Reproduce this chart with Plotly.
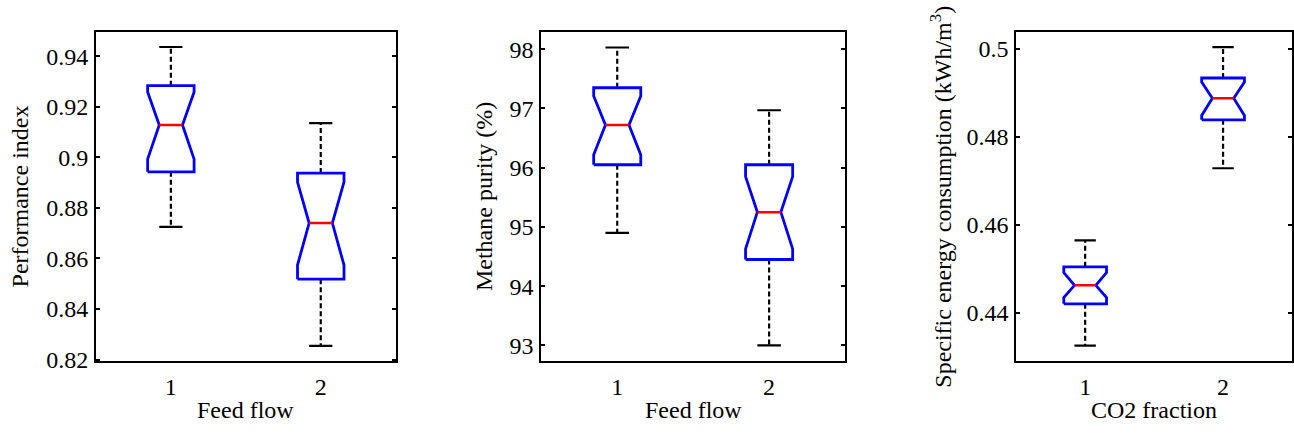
import plotly.graph_objects as go

# ---------------- data ----------------
groups = [1, 2]

p1_whisk_lo = [0.8725, 0.8254]
p1_q1       = [0.8943, 0.8518]
p1_notch_lo = [0.8993, 0.8574]
p1_median   = [0.9128, 0.8740]
p1_notch_hi = [0.9259, 0.8902]
p1_q3       = [0.9284, 0.8938]
p1_whisk_hi = [0.9437, 0.9136]

p2_whisk_lo = [94.90, 93.00]
p2_q1       = [96.05, 94.45]
p2_notch_lo = [96.22, 94.63]
p2_median   = [96.72, 95.25]
p2_notch_hi = [97.21, 95.85]
p2_q3       = [97.35, 96.05]
p2_whisk_hi = [98.03, 96.97]

p3_whisk_lo = [0.4326, 0.4729]
p3_q1       = [0.4421, 0.4839]
p3_notch_lo = [0.4435, 0.4849]
p3_median   = [0.4463, 0.4888]
p3_notch_hi = [0.4492, 0.4925]
p3_q3       = [0.4505, 0.4934]
p3_whisk_hi = [0.4565, 0.5004]

x_titles = ["Feed flow", "Feed flow", "CO2 fraction"]
y_titles = ["Performance index", "Methane purity (%)",
            "Specific energy consumption (kWh/m<sup>3</sup>)"]
y_tickvals = [[0.82, 0.84, 0.86, 0.88, 0.90, 0.92, 0.94],
              [93, 94, 95, 96, 97, 98],
              [0.44, 0.46, 0.48, 0.50]]
y_ticktext = [["0.82", "0.84", "0.86", "0.88", "0.9", "0.92", "0.94"],
              ["93", "94", "95", "96", "97", "98"],
              ["0.44", "0.46", "0.48", "0.5"]]
y_ranges = [[0.8195, 0.9496], [92.74, 98.29], [0.42915, 0.50383]]

panels = [
    (p1_whisk_lo, p1_q1, p1_notch_lo, p1_median, p1_notch_hi, p1_q3, p1_whisk_hi),
    (p2_whisk_lo, p2_q1, p2_notch_lo, p2_median, p2_notch_hi, p2_q3, p2_whisk_hi),
    (p3_whisk_lo, p3_q1, p3_notch_lo, p3_median, p3_notch_hi, p3_q3, p3_whisk_hi),
]

# ---------------- layout geometry ----------------
W, H = 1294, 436
x_px = [(96, 396), (541.7, 845.7), (1017, 1293)]
top_px, bot_px = 33, 371
ydom = [1 - bot_px / H, 1 - top_px / H]
ylabel_x_px = [20, 485, 942]

HALF = 0.155   # box half width (x units)
FONT = "Liberation Serif, Times New Roman, serif"

fig = go.Figure()
layout = dict(width=W, height=H, margin=dict(l=0, r=0, t=0, b=0, pad=0),
              plot_bgcolor="white", paper_bgcolor="white",
              showlegend=False, annotations=[],
              font=dict(family=FONT, color="black", size=24))

for i, (wlo, q1, nlo, med, nhi, q3, whi) in enumerate(panels):
    xa = "x" if i == 0 else f"x{i+1}"
    ya = "y" if i == 0 else f"y{i+1}"
    for j, g in enumerate(groups):
        w = HALF
        n = HALF / 2
        # whiskers (dashed)
        fig.add_trace(go.Scatter(x=[g, g, None, g, g],
                                 y=[q3[j], whi[j], None, q1[j], wlo[j]],
                                 mode="lines", xaxis=xa, yaxis=ya,
                                 line=dict(color="black", width=2.2, dash="5px,3px"),
                                 hoverinfo="skip"))
        # whisker caps
        fig.add_trace(go.Scatter(x=[g - n, g + n, None, g - n, g + n],
                                 y=[whi[j], whi[j], None, wlo[j], wlo[j]],
                                 mode="lines", xaxis=xa, yaxis=ya,
                                 line=dict(color="black", width=2.2),
                                 hoverinfo="skip"))
        # notched box outline
        bx = [g - w, g + w, g + w, g + n, g + w, g + w, g - w, g - w, g - n, g - w, g - w]
        by = [q1[j], q1[j], nlo[j], med[j], nhi[j], q3[j], q3[j], nhi[j], med[j], nlo[j], q1[j]]
        fig.add_trace(go.Scatter(x=bx, y=by, mode="lines", xaxis=xa, yaxis=ya,
                                 fill="toself", fillcolor="white",
                                 line=dict(color="#0000ff", width=2.8),
                                 hoverinfo="skip"))
        # median
        fig.add_trace(go.Scatter(x=[g - n, g + n], y=[med[j], med[j]],
                                 mode="lines", xaxis=xa, yaxis=ya,
                                 line=dict(color="#ff0000", width=2.5),
                                 hoverinfo="skip"))

    xkey = "xaxis" if i == 0 else f"xaxis{i+1}"
    ykey = "yaxis" if i == 0 else f"yaxis{i+1}"
    x0, x1 = x_px[i]
    layout[xkey] = dict(domain=[x0 / W, x1 / W], anchor=ya, range=[0.5, 2.5],
                        tickvals=groups, ticktext=[str(g) for g in groups],
                        ticks="", showline=True, mirror=True, linecolor="black",
                        linewidth=2, showgrid=False, zeroline=False,
                        tickfont=dict(family=FONT, size=24, color="black"),
                        ticklabelstandoff=3)
    layout[ykey] = dict(domain=ydom, anchor=xa, range=y_ranges[i],
                        tickvals=y_tickvals[i], ticktext=y_ticktext[i],
                        ticks="inside", ticklen=4, tickwidth=2, tickcolor="black",
                        showline=True, mirror="ticks", linecolor="black",
                        linewidth=2, showgrid=False, zeroline=False,
                        tickfont=dict(family=FONT, size=24, color="black"),
                        ticklabelstandoff=1)
    layout["annotations"].append(dict(
        text=x_titles[i], xref="paper", yref="paper",
        x=((x0 + x1) / 2) / W, y=1 - 422 / H, xanchor="center", yanchor="middle",
        showarrow=False, font=dict(family=FONT, size=24, color="black")))
    layout["annotations"].append(dict(
        text=y_titles[i], xref="paper", yref="paper",
        x=ylabel_x_px[i] / W, y=1 - 202 / H, xanchor="center", yanchor="middle",
        textangle=-90, showarrow=False,
        font=dict(family=FONT, size=24, color="black")))

fig.update_layout(**layout)
fig.write_html("out.html")
